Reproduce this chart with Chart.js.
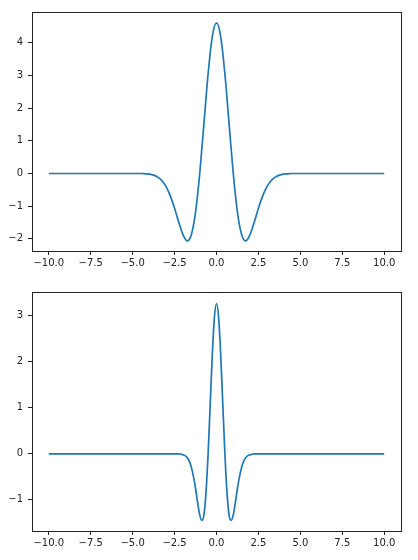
<!DOCTYPE html>
<html>
<head>
<meta charset="utf-8">
<script src="https://cdn.jsdelivr.net/npm/chart.js@4"></script>
<style>
  body { margin: 0; background: #fff; }
  .box { width: 418px; height: 280px; position: relative; }
</style>
</head>
<body>
<div class="box"><canvas id="top-chart" width="418" height="280"></canvas></div>
<div class="box"><canvas id="bottom-chart" width="418" height="280"></canvas></div>
<script>
// wavelet values
const xTop = [-10, -7.5, -5, -4.75, -4.5, -4.25, -4, -3.75, -3.5, -3.25, -3, -2.75, -2.5, -2.25, -2, -1.75, -1.5, -1.25, -1, -0.75, -0.5, -0.25,
  0, 0.25, 0.5, 0.75, 1, 1.25, 1.5, 1.75, 2, 2.25, 2.5, 2.75, 3, 3.25, 3.5, 3.75, 4, 4.25, 4.5, 4.75, 5, 7.5, 10];
const yTop = [0, 0, 0, 0, 0, -0.01, -0.02, -0.05, -0.11, -0.22, -0.41, -0.69, -1.06, -1.49, -1.87, -2.06, -1.87, -1.19, 0, 1.52, 3.05, 4.19,
  4.61, 4.19, 3.05, 1.52, 0, -1.19, -1.87, -2.06, -1.87, -1.49, -1.06, -0.69, -0.41, -0.22, -0.11, -0.05, -0.02, -0.01, 0, 0, 0, 0, 0];

const xBottom = [-10, -7.5, -5, -2.5, -2.375, -2.25, -2.125, -2, -1.875, -1.75, -1.625, -1.5, -1.375, -1.25, -1.125, -1, -0.875, -0.75, -0.625, -0.5, -0.375, -0.25, -0.125,
  0, 0.125, 0.25, 0.375, 0.5, 0.625, 0.75, 0.875, 1, 1.125, 1.25, 1.375, 1.5, 1.625, 1.75, 1.875, 2, 2.125, 2.25, 2.375, 2.5, 5, 7.5, 10];
const yBottom = [0, 0, 0, 0, 0, 0, -0.01, -0.02, -0.04, -0.08, -0.16, -0.29, -0.49, -0.75, -1.06, -1.33, -1.45, -1.33, -0.84, 0, 1.08, 2.16, 2.97,
  3.27, 2.97, 2.16, 1.08, 0, -0.84, -1.33, -1.45, -1.33, -1.06, -0.75, -0.49, -0.29, -0.16, -0.08, -0.04, -0.02, -0.01, 0, 0, 0, 0, 0, 0];

const xTicks = [-10, -7.5, -5, -2.5, 0, 2.5, 5, 7.5, 10];
const yTicksTop = [-2, -1, 0, 1, 2, 3, 4];
const yTicksBottom = [-1, 0, 1, 2, 3];

const minus = (s) => s.replace("-", "\u2212");

const frame = {
  id: "frame",
  afterDraw(chart) {
    const { ctx, chartArea: a } = chart;
    ctx.save();
    ctx.strokeStyle = "#222";
    ctx.lineWidth = 1;
    ctx.strokeRect(Math.round(a.left) + 0.5, Math.round(a.top) + 0.5, Math.round(a.right - a.left), Math.round(a.bottom - a.top));
    ctx.restore();
  }
};

function makeChart(id, xs, ys, yTicks, yMin, yMax) {
  const tickFont = { family: "DejaVu Sans", size: 10 };
  const grid = { display: true, drawOnChartArea: false, drawTicks: true, tickLength: 4, tickColor: "#222", tickWidth: 1 };
  new Chart(document.getElementById(id).getContext("2d"), {
    type: "line",
    data: {
      datasets: [{
        data: xs.map((x, i) => ({ x: x, y: ys[i] })),
        borderColor: "#1f77b4",
        borderWidth: 1.7,
        pointRadius: 0,
        cubicInterpolationMode: "monotone",
        fill: false
      }]
    },
    options: {
      responsive: false,
      animation: false,
      devicePixelRatio: 1,
      layout: { padding: { top: 12, right: 17, left: 0, bottom: 0 } },
      plugins: { legend: { display: false }, tooltip: { enabled: false } },
      scales: {
        x: {
          type: "linear",
          min: -11, max: 11,
          grid: grid,
          border: { display: false },
          afterBuildTicks: (s) => { s.ticks = xTicks.map((v) => ({ value: v })); },
          afterFit: (s) => { s.height = 29; },
          ticks: { font: tickFont, color: "#222", padding: 2, maxRotation: 0, autoSkip: false,
            callback: (v) => minus(Number(v).toFixed(1)) }
        },
        y: {
          type: "linear",
          min: yMin, max: yMax,
          grid: grid,
          border: { display: false },
          afterBuildTicks: (s) => { s.ticks = yTicks.map((v) => ({ value: v })); },
          afterFit: (s) => { s.width = 32; },
          ticks: { font: tickFont, color: "#222", padding: 5, autoSkip: false,
            callback: (v) => minus(String(v)) }
        }
      }
    },
    plugins: [frame]
  });
}

makeChart("top-chart", xTop, yTop, yTicksTop, -2.37, 4.94);
makeChart("bottom-chart", xBottom, yBottom, yTicksBottom, -1.68, 3.52);
</script>
</body>
</html>
